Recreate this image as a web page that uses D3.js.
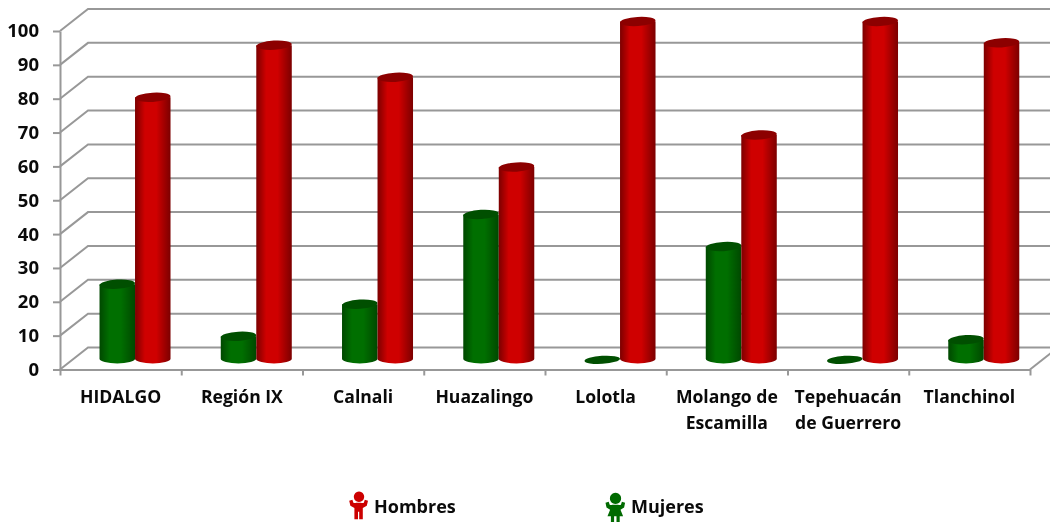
<!DOCTYPE html>
<html><head><meta charset="utf-8">
<script src="https://d3js.org/d3.v7.min.js"></script>
<style>html,body{margin:0;background:#fff}svg{display:block;filter:blur(.35px)}text{font-family:"Open Sans",sans-serif;font-weight:700;fill:#0a0a0a}</style>
</head><body><svg id="c" width="1050" height="522"></svg>
<script>
const categories=[["HIDALGO"],["Región IX"],["Calnali"],["Huazalingo"],["Lolotla"],["Molango de","Escamilla"],["Tepehuacán","de Guerrero"],["Tlanchinol"]];
const mujeres=[22.4,7,16.5,43,0,33.5,0,6];
const hombres=[77.6,93,83.5,57,100,66.5,100,93.7];
const yTicks=[0,10,20,30,40,50,60,70,80,90,100];
const seriesNames=["Mujeres","Hombres"];

const svg=d3.select("#c");
const dx=28,dy=22,grid="#989898";
const x=d3.scaleBand().domain(d3.range(categories.length)).range([60,1030]).padding(0);
const y=d3.scaleLinear().domain([0,100]).range([369.5,31]);
const defs=svg.append("defs");
function grad(id,edge,mid){
  const g=defs.append("linearGradient").attr("id",id);
  [[0,edge],[.28,mid],[.6,mid],[1,edge]].forEach(s=>g.append("stop").attr("offset",s[0]).attr("stop-color",s[1]));
}
grad("gr","#7c0000","#cf0000");
grad("gg","#004800","#006f00");

// walls
const walls=svg.append("g").attr("fill","none").attr("stroke",grid).attr("stroke-width",2);
yTicks.forEach(t=>{
  walls.append("path").attr("d",`M${x.range()[0]},${y(t)}L${x.range()[0]+dx},${y(t)-dy}H${x.range()[1]+dx}`);
});
walls.append("path").attr("d",`M${x.range()[1]},${y(0)}L${x.range()[1]+dx},${y(0)-dy}`);

// axes
const yAxis=svg.append("g").attr("transform",`translate(${x.range()[0]},0)`).call(d3.axisLeft(y).tickValues(yTicks).tickSize(7).tickPadding(14).tickSizeOuter(0));
yAxis.selectAll("line,path").attr("stroke",grid).attr("stroke-width",2);
yAxis.selectAll("text").attr("font-size",18.5).attr("font-family","Open Sans").attr("font-weight",700).attr("fill","#0a0a0a");
const xAxis=svg.append("g").attr("transform",`translate(0,${y(0)})`);
xAxis.call(d3.axisBottom(d3.scaleLinear().domain([0,categories.length]).range(x.range())).ticks(categories.length).tickSize(6).tickFormat("").tickSizeOuter(0));
xAxis.selectAll("line,path").attr("stroke",grid).attr("stroke-width",2);

// category labels
const labels=svg.append("g").attr("text-anchor","middle").attr("font-size",17.6);
categories.forEach((c,i)=>{
  c.forEach((s,j)=>labels.append("text").attr("x",x(i)+x.bandwidth()/2).attr("y",403+j*26).text(s));
});

// cylinders
const bw=35.5,ry=4.6,rot=-3.5;
const base=v=>y(v)-dy/2;
function cyl(i,v,off,fill,cap){
  const cx=x(i)+x.bandwidth()/2+dx/2+off*bw/2+0.4;
  const b=base(0)+0.3,t=base(v)+1.5;
  const g=svg.append("g");
  if(v>0){
    g.append("path").attr("fill",`url(#${fill})`)
     .attr("d",`M${cx-bw/2},${t}V${b}A${bw/2},${ry} 0 0 0 ${cx+bw/2},${b}V${t}Z`);
  }
  const cy=v>0?t:b+1;
  g.append("ellipse").attr("cx",cx).attr("cy",cy).attr("rx",bw/2).attr("ry",v>0?ry:4)
   .attr("transform",`rotate(${rot} ${cx} ${cy})`).attr("fill",cap);
}
categories.forEach((c,i)=>{
  cyl(i,mujeres[i],-1,"gg","#004f00");
  cyl(i,hombres[i],1,"gr","#8c0000");
});

// legend
const man="M0,0a5.2,5.2 0 1 1 .01,0Zm-2.6,.8c-1.3,.3-2.2,.3-3,0l-1,-3-3.2,1 1.2,5 4,2.2v11.2h3.6v-7.5h1.2v7.5h3.6v-11.2l4,-2.2 1.2,-5-3.2,-1-1,3c-.8,.3-1.7,.3-3,0Z";
const woman="M0,0a5.6,5.6 0 1 1 .01,0Zm-3,.8c-1.3,.3-2,.3-2.8,0l-1,-3-3.2,1 1,4.8 3.6,2.2-2.6,6.4h3.4v6.8h3.2v-6.8h2.4v6.8h3.2v-6.8h3.4l-2.6,-6.4 3.6,-2.2 1,-4.8-3.2,-1-1,3c-.8,.3-1.5,.3-2.8,0Z";
const legend=[{n:seriesNames[1],p:man,c:"#cc0000",ix:359,iy:502,tx:374},{n:seriesNames[0],p:woman,c:"#006a00",ix:615.5,iy:504,tx:631}];
legend.forEach(l=>{
  svg.append("path").attr("d",l.p).attr("fill",l.c).attr("transform",`translate(${l.ix},${l.iy})`);
  svg.append("text").attr("x",l.tx).attr("y",513).attr("font-size",18).text(l.n);
});
</script></body></html>
